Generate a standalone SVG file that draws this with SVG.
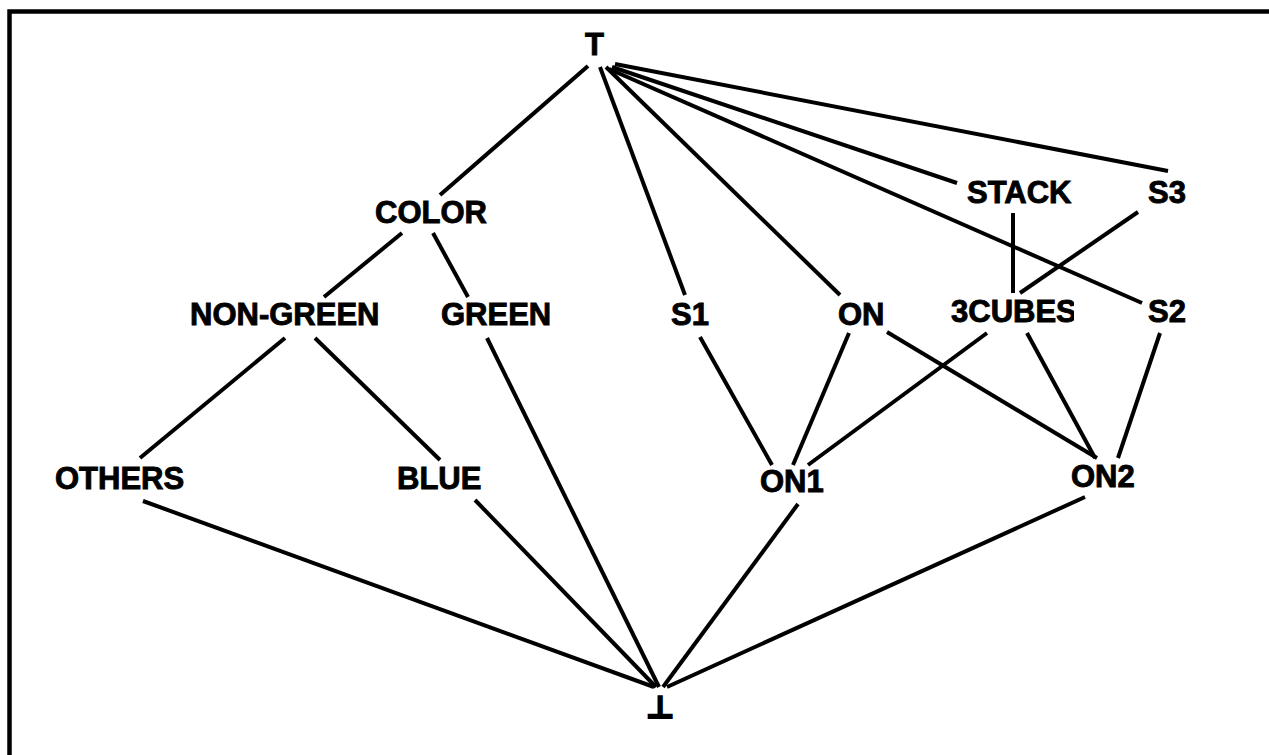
<svg xmlns="http://www.w3.org/2000/svg" width="1269" height="755" viewBox="0 0 1269 755">
  <style>
    .lbl { font-family: "Liberation Sans", Arial, sans-serif; font-weight: bold; font-size: 31px; fill: #000; stroke: #000; stroke-width: 0.9; }
    .bot { font-family: "DejaVu Sans", sans-serif; font-weight: bold; font-size: 31px; fill: #000; stroke: #000; stroke-width: 2; }
    .edge { stroke: #000; stroke-width: 4; stroke-linecap: butt; fill: none; }
    .frame { stroke: #000; stroke-width: 4.5; fill: none; }
  </style>
  <defs>
    <clipPath id="clip-3cubes">
      <rect x="940" y="290" width="134" height="40"/>
    </clipPath>
    <clipPath id="clip-nongreen">
      <rect x="180" y="290" width="204" height="40"/>
    </clipPath>
  </defs>

  <rect width="1269" height="755" fill="#fff"/>

  <!-- page frame: top and left rules only -->
  <path class="frame" d="M9.5 755 V11.5 H1269"/>

  <g id="connectors">
    <!-- from top element -->
    <line class="edge" x1="588" y1="66" x2="440" y2="195"/>
    <line class="edge" x1="600" y1="67" x2="685" y2="295"/>
    <line class="edge" x1="606" y1="67" x2="840" y2="295"/>
    <line class="edge" x1="612" y1="67" x2="957" y2="183"/>
    <line class="edge" x1="609" y1="69" x2="1142" y2="303"/>
    <line class="edge" x1="615" y1="64" x2="1168" y2="171"/>
    <!-- colour branch -->
    <line class="edge" x1="402" y1="233" x2="324" y2="297"/>
    <line class="edge" x1="433" y1="233" x2="468" y2="297"/>
    <line class="edge" x1="285" y1="338" x2="140" y2="458"/>
    <line class="edge" x1="315" y1="338" x2="440" y2="460"/>
    <!-- stack branch -->
    <line class="edge" x1="1013" y1="213" x2="1013" y2="293"/>
    <line class="edge" x1="1138" y1="212" x2="1020" y2="293"/>
    <line class="edge" x1="700" y1="337" x2="772" y2="465"/>
    <line class="edge" x1="849" y1="333" x2="793" y2="465"/>
    <line class="edge" x1="887" y1="332" x2="1097" y2="458"/>
    <line class="edge" x1="987" y1="333" x2="808" y2="465"/>
    <line class="edge" x1="1027" y1="333" x2="1095" y2="458"/>
    <line class="edge" x1="1160" y1="333" x2="1118" y2="458"/>
    <!-- into bottom element -->
    <line class="edge" x1="143" y1="501" x2="654" y2="687"/>
    <line class="edge" x1="475" y1="500" x2="656" y2="687"/>
    <line class="edge" x1="487" y1="338" x2="659" y2="687"/>
    <line class="edge" x1="798" y1="504" x2="663" y2="687"/>
    <line class="edge" x1="1085" y1="497" x2="667" y2="687"/>
  </g>

  <g id="node-top"><text class="lbl" x="585" y="55">T</text></g>
  <g id="node-color"><text class="lbl" x="375" y="223">COLOR</text></g>
  <g id="node-non-green"><text class="lbl" x="190" y="325" clip-path="url(#clip-nongreen)">NON-GREEN</text></g>
  <g id="node-green"><text class="lbl" x="441" y="325">GREEN</text></g>
  <g id="node-s1"><text class="lbl" x="671" y="325">S1</text></g>
  <g id="node-on"><text class="lbl" x="838" y="325">ON</text></g>
  <g id="node-3cubes"><text class="lbl" x="951" y="322" clip-path="url(#clip-3cubes)">3CUBES</text></g>
  <g id="node-stack"><text class="lbl" x="967" y="203">STACK</text></g>
  <g id="node-s3"><text class="lbl" x="1148" y="203">S3</text></g>
  <g id="node-s2"><text class="lbl" x="1148" y="322">S2</text></g>
  <g id="node-others"><text class="lbl" x="55" y="489">OTHERS</text></g>
  <g id="node-blue"><text class="lbl" x="397" y="489">BLUE</text></g>
  <g id="node-on1"><text class="lbl" x="760" y="492">ON1</text></g>
  <g id="node-on2"><text class="lbl" x="1071" y="487">ON2</text></g>
  <g id="node-bottom"><text class="bot" x="660" y="718" text-anchor="middle">⊥</text></g>
</svg>
